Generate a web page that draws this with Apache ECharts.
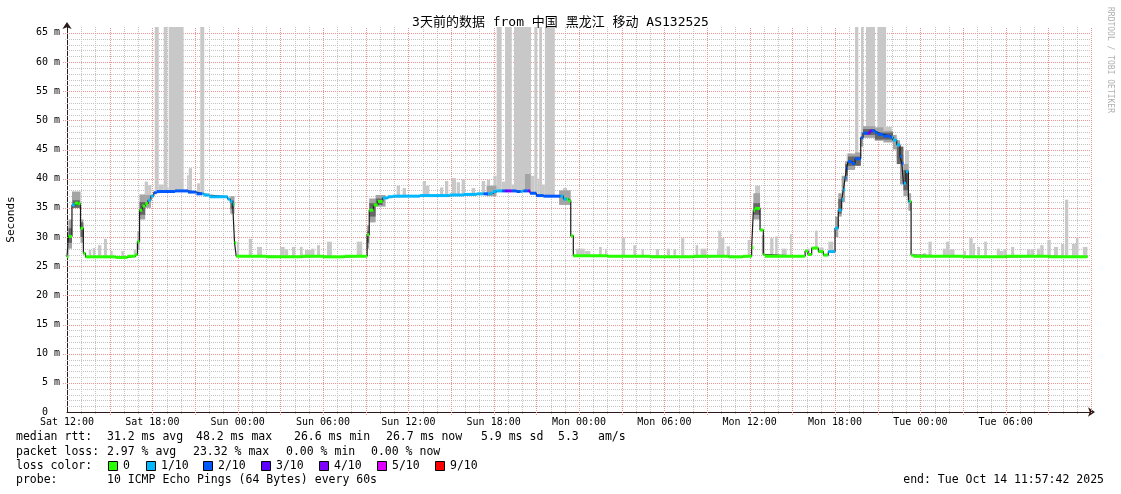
<!DOCTYPE html>
<html><head><meta charset="utf-8">
<script src="https://cdn.jsdelivr.net/npm/echarts@6/dist/echarts.min.js"></script>
<style>html,body{margin:0;padding:0;background:#fff}#c{width:1121px;height:494px}</style>
</head><body><div id="c"></div>
<script>
// ---------------- data (hours since Sat 12:00, values in ms) ----------------
const titleText = '3天前的数据 from 中国 黑龙江 移动 AS132525';
const xLabels = ['Sat 12:00','Sat 18:00','Sun 00:00','Sun 06:00','Sun 12:00','Sun 18:00',
                 'Mon 00:00','Mon 06:00','Mon 12:00','Mon 18:00','Tue 00:00','Tue 06:00'];
const yAxisTitle = 'Seconds';
const yUnit = 'm';
const xRange = [0, 72];   // hours shown
const yRange = [0, 66];   // ms shown

// median rtt, step points: value holds from medT[i] until medT[i+1]
const medT = [0.00,0.10,0.35,0.55,0.80,0.95,1.15,1.30,3.40,4.25,4.80,4.95,5.10,5.30,5.50,5.70,5.90,6.10,6.30,7.60,8.50,9.10,9.60,10.00,11.30,11.48,11.65,11.78,11.90,
  14.00,16.50,18.00,19.50,21.10,21.25,21.55,21.85,22.20,22.55,22.90,24.80,26.90,27.90,28.80,29.70,29.95,30.20,31.60,32.00,32.56,33.00,33.50,34.90,35.25,35.42,35.60,
  38.00,41.00,44.00,46.50,47.50,48.14,48.26,48.38,48.73,48.96,49.08,51.90,52.10,52.36,52.83,53.18,53.53,54.00,54.23,54.47,54.59,54.71,54.82,54.91,55.20,55.41,55.81,55.97,
  56.46,56.80,57.00,57.40,57.87,58.08,58.34,58.57,58.70,58.81,58.99,59.16,59.35,59.50,63.00,66.00,69.00,71.75];
const medV = [26.6,30.1,35.5,35.8,35.7,31.5,27.2,26.6,26.5,26.7,27.0,29.2,34.6,35.3,35.7,36.3,37.0,37.6,37.8,37.9,37.7,37.4,37.2,36.9,36.5,36.1,35.6,29.0,26.7,
  26.6,26.7,26.6,26.7,30.4,34.6,35.5,36.1,36.7,36.9,37.0,37.1,37.2,37.3,37.4,37.5,37.8,37.9,37.8,37.9,37.5,37.1,37.0,36.5,36.2,30.2,26.8,
  26.7,26.6,26.7,26.6,26.7,28.2,34.6,34.9,31.2,27.0,26.7,27.6,27.0,28.1,27.5,26.9,27.5,31.5,34.6,36.4,38.1,40.1,41.8,42.9,42.6,43.4,47.0,47.8,
  48.2,47.9,47.6,47.3,47.1,46.6,45.8,43.8,42.6,39.2,41.2,36.1,26.9,26.7,26.6,26.7,26.6,26.7];

// packet loss per period [fromHour, toHour, lossLevel]; level indexes lossNames (0 elsewhere)
const lossSeg = [[0.35,0.55,1],[5.70,6.10,1],[6.10,9.50,2],[9.50,11.72,1],
  [22.20,29.30,1],[29.30,29.60,2],[29.60,30.60,1],[30.60,30.80,2],[30.80,31.00,3],[31.00,31.27,4],[31.27,31.90,2],
  [31.90,32.10,1],[32.10,32.40,2],[32.40,32.56,4],[32.56,34.70,2],[34.70,35.15,1],
  [53.50,54.75,1],[54.75,56.30,2],[56.30,56.60,4],[56.60,58.00,2],[58.00,58.60,1],[58.60,58.85,2],[58.85,59.25,1]];
const lossNames = ['0','1/10','2/10','3/10','4/10','5/10','9/10'];

// highest ping per period [fromHour, toHour, maxMs]
const spikes = [[0.00,0.15,28.6],[1.53,1.71,27.8],[1.81,1.99,28.1],[2.18,2.41,28.6],[2.60,2.81,29.7],[3.04,3.21,27.6],[3.82,4.00,27.6],[4.69,4.85,27.8],
  [5.46,5.70,39.5],[5.70,5.93,38.9],[6.17,6.45,66],[6.45,6.80,39.0],[6.80,7.05,66],[7.05,7.15,38.5],[7.15,8.20,66],[8.44,8.56,40.6],[8.56,8.79,41.8],[9.14,9.35,39.2],[9.37,9.65,66],
  [11.95,12.10,29.2],[12.78,13.01,29.7],[13.36,13.71,28.3],[14.98,15.31,28.3],[15.31,15.55,27.9],[15.82,16.05,28.3],[16.38,16.57,28.3],[16.73,17.16,27.8],[17.16,17.40,28.0],
  [17.58,17.79,28.6],[18.28,18.63,29.2],[20.37,20.76,29.2],
  [23.18,23.42,38.8],[23.60,23.83,38.4],[25.01,25.24,39.6],[25.24,25.48,38.8],[26.23,26.46,38.5],[26.58,26.81,39.6],[27.05,27.35,40.1],[27.40,27.63,39.4],[27.75,27.98,39.9],
  [28.45,28.70,38.4],[29.16,29.40,39.6],[29.52,29.75,39.8],[29.98,30.21,40.5],[30.21,30.56,66],[30.56,30.80,39.5],[30.80,31.27,66],[31.27,31.43,39.0],[31.43,32.63,66],
  [32.63,32.86,40.5],[32.86,33.07,66],[33.07,33.20,40.0],[33.20,33.40,66],[33.40,33.60,39.0],[33.60,34.30,66],[34.88,35.16,38.4],
  [35.80,36.40,28.0],[36.40,36.80,27.6],[37.41,37.60,28.3],[37.83,37.95,28.0],[39.00,39.24,29.9],[39.82,40.01,28.6],[40.40,40.56,27.9],[41.40,41.63,27.9],[42.17,42.40,28.0],
  [42.64,42.83,27.9],[43.18,43.40,29.8],[44.20,44.38,28.6],[44.55,44.97,28.0],[45.70,45.79,28.0],[45.79,45.98,31.1],[45.98,46.22,29.8],[46.38,46.62,28.4],[47.86,48.02,29.5],
  [48.38,48.73,38.8],[48.85,49.08,30.3],[49.44,49.67,29.8],[49.79,49.97,30.1],[50.25,50.60,28.0],[50.84,50.96,30.5],[52.01,52.24,28.0],[52.59,52.78,31.1],[52.90,53.20,28.2],
  [53.53,53.88,29.2],[54.82,55.20,44.3],[55.41,55.64,66],[55.83,56.00,66],[56.18,56.81,66],[56.98,57.59,66],[57.59,57.99,48.9],[58.92,59.20,44.9],
  [60.17,60.41,27.2],[60.57,60.80,29.2],[61.58,61.81,28.0],[61.81,62.04,29.2],[62.04,62.40,27.9],[63.02,63.21,27.6],[63.44,63.68,29.8],[63.68,63.84,28.9],[64.01,64.20,28.3],
  [64.49,64.68,29.2],[65.37,65.60,28.0],[65.60,65.84,27.6],[65.84,66.07,27.9],[66.38,66.60,28.3],[67.50,67.74,27.9],[67.76,67.99,27.9],[68.20,68.43,28.0],[68.43,68.67,28.6],
  [68.93,69.17,29.5],[69.40,69.68,28.3],[69.90,70.12,28.8],[70.17,70.40,36.4],[70.66,70.94,28.8],[70.94,71.12,29.9],[71.43,71.75,28.3]];

// outer smoke (spread of most pings) [fromHour, toHour, lowMs, highMs]
const smokeOuter = [[0.10,0.35,28.0,33.0],[0.35,0.95,35.0,37.8],[0.95,1.15,29.0,33.0],[4.95,5.10,27.8,31.0],[5.10,5.50,33.0,37.3],[5.50,5.90,35.0,37.2],
  [11.48,11.78,34.0,37.0],[21.10,21.25,28.0,32.0],[21.25,21.70,32.5,36.6],[21.70,22.40,35.2,37.2],
  [29.50,30.20,37.0,38.8],[32.20,32.60,38.0,40.8],[34.60,35.42,35.5,38.0],[48.26,48.73,33.0,37.5],
  [54.00,54.23,30.0,33.5],[54.23,54.47,33.5,37.5],[54.47,54.71,36.0,40.5],[54.71,54.91,39.5,43.0],[54.91,55.41,41.5,44.3],[55.41,55.81,42.3,44.5],
  [55.81,55.97,45.5,48.0],[55.97,56.80,47.0,49.0],[56.80,57.40,46.5,48.8],[57.40,58.08,46.2,48.2],[58.08,58.34,45.0,47.5],[58.34,58.57,43.5,46.6],
  [58.57,58.81,39.0,44.0],[58.81,59.16,37.0,42.5],[59.16,59.35,34.5,37.5]];
// inner smoke (core of pings) [fromHour, toHour, lowMs, highMs]
const smokeInner = [[0.10,0.35,29.0,31.5],[0.40,0.90,35.0,36.3],[0.95,1.15,30.0,32.5],[5.10,5.50,33.8,36.0],[11.50,11.72,34.8,36.3],
  [21.10,21.25,29.0,31.0],[21.25,21.70,33.5,35.8],[21.70,22.20,35.5,36.6],[48.26,48.73,33.8,35.8],
  [54.23,54.47,34.0,36.5],[54.71,54.91,40.5,42.5],[54.91,55.81,42.2,43.8],[55.97,56.80,47.5,48.5],[56.80,58.08,46.7,47.9],[58.34,58.81,42.5,45.5],[58.81,59.16,38.0,41.5]];

const statRows = [
  ['median rtt:', '31.2 ms avg', '48.2 ms max', '26.6 ms min', '26.7 ms now', '5.9 ms sd', '5.3', 'am/s'],
  ['packet loss:', '2.97 % avg', '23.32 % max', '0.00 % min', '0.00 % now']
];
const probeText = ['probe:', '10 ICMP Echo Pings (64 Bytes) every 60s'];
const endText = 'end: Tue Oct 14 11:57:42 2025';
const credit = 'RRDTOOL / TOBI OETIKER';

// ---------------- styles ----------------
const lossColors = ['#26ff00','#00b8ff','#0059ff','#5e00ff','#7e00ff','#dd00ff','#ff0000'];
const MONO = '"DejaVu Sans Mono", "Noto Sans CJK SC", monospace';
const MAJOR = '#ec9494', MINOR = '#c4c4c4';

function medianAt(h) { let v = medV[0]; for (let i = 0; i < medT.length; i++) { if (medT[i] <= h) v = medV[i]; else break; } return v; }
function lossAt(h) { for (const s of lossSeg) if (h >= s[0] && h < s[1]) return s[2]; return 0; }

const spikeData = spikes.map(s => [s[0], s[1], medianAt((s[0] + s[1]) / 2), s[2]]);
const bandData = [];
for (let i = 0; i < medT.length - 1; i++) {
  const a = medT[i], b = medT[i + 1], v = medV[i];
  const cuts = [a, b];
  lossSeg.forEach(s => { if (s[0] > a && s[0] < b) cuts.push(s[0]); if (s[1] > a && s[1] < b) cuts.push(s[1]); });
  cuts.sort((p, q) => p - q);
  for (let k = 0; k < cuts.length - 1; k++) bandData.push([cuts[k], cuts[k + 1], v, lossAt((cuts[k] + cuts[k + 1]) / 2)]);
}

// grid lines: [orientation 0=vertical/1=horizontal, value, major?]
const gridData = [];
for (let h = xRange[0] + 1; h <= xRange[1]; h++) gridData.push([0, h, h % 3 === 0 ? 1 : 0]);
for (let v = yRange[0] + 1; v < yRange[1]; v++) gridData.push([1, v, v % 5 === 0 ? 1 : 0]);
gridData.sort((a, b) => a[2] - b[2]); // minor first, major on top

function rectRender(fill) {
  return function (params, api) {
    const p0 = api.coord([api.value(0), api.value(3)]);
    const p1 = api.coord([api.value(1), api.value(2)]);
    return { type: 'rect', shape: { x: p0[0], y: p0[1], width: p1[0] - p0[0], height: p1[1] - p0[1] }, style: { fill: fill } };
  };
}

const chart = echarts.init(document.getElementById('c'), null, { renderer: 'canvas' });

// legend graphics
const g = [];
const rowY = [437, 452, 466, 480];
const row1X = [16, 107, 196, 294, 386, 481, 558, 598];
const row2X = [16, 107, 193, 286, 371];
function txt(x, y, s) { g.push({ type: 'text', x: x, y: y, style: { text: s, font: '11.5px ' + MONO, fill: '#000', textVerticalAlign: 'middle' } }); }
statRows[0].forEach((s, i) => txt(row1X[i], rowY[0], s));
statRows[1].forEach((s, i) => txt(row2X[i], rowY[1], s));
txt(16, rowY[2], 'loss color:');
const boxX = [108, 146, 203, 261, 319, 377, 435];
lossNames.forEach((n, i) => {
  g.push({ type: 'rect', shape: { x: boxX[i] + 0.5, y: rowY[2] - 4.5, width: 9, height: 9 }, style: { fill: lossColors[i], stroke: '#000', lineWidth: 1 } });
  txt(boxX[i] + 15, rowY[2], n);
});
txt(16, rowY[3], probeText[0]);
txt(107, rowY[3], probeText[1]);
g.push({ type: 'text', x: 1104, y: rowY[3], style: { text: endText, font: '11.5px ' + MONO, fill: '#000', textAlign: 'right', textVerticalAlign: 'middle' } });
g.push({ type: 'text', x: 1110, y: 60, rotation: -Math.PI / 2, style: { text: credit, font: '8px ' + MONO, fill: '#b0b0b0', textAlign: 'center', textVerticalAlign: 'middle' } });

const option = {
  animation: false,
  backgroundColor: '#fff',
  title: { text: titleText, left: 'center', top: 11, textStyle: { fontFamily: MONO, fontSize: 13, fontWeight: 'normal', color: '#000' } },
  grid: { left: 67, right: 30, top: 27, bottom: 82, outerBoundsMode: 'none' },
  xAxis: { type: 'value', min: xRange[0], max: xRange[1], interval: 3,
    axisLine: { show: true, onZero: false, lineStyle: { color: '#2a1a1a', width: 1 }, symbol: ['none', 'arrow'], symbolSize: [7, 7], symbolOffset: [0, 4] },
    axisTick: { show: false },
    axisLabel: { margin: 5, color: '#000', fontFamily: MONO, fontSize: 10,
      formatter: v => (v % 6 === 0 && xLabels[v / 6]) ? xLabels[v / 6] : '' },
    splitLine: { show: false } },
  yAxis: { type: 'value', min: yRange[0], max: yRange[1], interval: 5,
    name: yAxisTitle, nameLocation: 'middle', nameGap: 50, nameRotate: 90,
    nameTextStyle: { fontFamily: MONO, fontSize: 11, color: '#000' },
    axisLine: { show: true, lineStyle: { color: '#2a1a1a', width: 1 }, symbol: ['none', 'arrow'], symbolSize: [7, 7], symbolOffset: [0, 5] },
    axisTick: { show: false },
    axisLabel: { margin: 7, color: '#000', fontFamily: MONO, fontSize: 10,
      formatter: v => v === 0 ? '0\u00a0\u00a0' : (v % 5 === 0 ? v + ' ' + yUnit : '') },
    splitLine: { show: false } },
  series: [
    { type: 'custom', name: 'grid', z: 1, silent: true, data: gridData,
      renderItem: function (params, api) {
        const vertical = api.value(0) === 0, val = api.value(1), major = api.value(2) === 1;
        let x1, y1, x2, y2;
        if (vertical) {
          const a = api.coord([val, yRange[0]]), b = api.coord([val, yRange[1]]);
          x1 = x2 = Math.round(a[0]) + 0.5; y1 = Math.round(a[1]) + (major ? 3 : 2); y2 = Math.round(b[1]);
        } else {
          const a = api.coord([xRange[0], val]), b = api.coord([xRange[1], val]);
          y1 = y2 = Math.round(a[1]) + 0.5; x1 = Math.round(a[0]) - (major ? 4 : 2); x2 = Math.round(b[0]);
        }
        return { type: 'line', shape: { x1: x1, y1: y1, x2: x2, y2: y2 },
          style: { stroke: major ? MAJOR : MINOR, lineWidth: 1, lineDash: [1, 1] } };
      } },
    { type: 'custom', name: 'max', z: 2, renderItem: rectRender('#c8c8c8'), encode: { x: [0, 1], y: [2, 3] }, data: spikeData },
    { type: 'custom', name: 'smoke', z: 3, renderItem: rectRender('#a4a4a4'), encode: { x: [0, 1], y: [2, 3] }, data: smokeOuter },
    { type: 'custom', name: 'smoke core', z: 4, renderItem: rectRender('#666666'), encode: { x: [0, 1], y: [2, 3] }, data: smokeInner },
    { type: 'line', name: 'median', z: 5, step: 'end', showSymbol: false, lineStyle: { color: '#1a1a1a', width: 1.2 },
      data: medT.map((t, i) => [t, medV[i]]) },
    { type: 'custom', name: 'loss', z: 6, encode: { x: [0, 1], y: [2] }, data: bandData,
      renderItem: function (params, api) {
        const p0 = api.coord([api.value(0), api.value(2)]);
        const p1 = api.coord([api.value(1), api.value(2)]);
        return { type: 'rect', shape: { x: p0[0], y: p0[1] - 1.5, width: p1[0] - p0[0], height: 3 }, style: { fill: lossColors[api.value(3)] } };
      } }
  ],
  graphic: g
};
chart.setOption(option);
</script>
</body></html>
